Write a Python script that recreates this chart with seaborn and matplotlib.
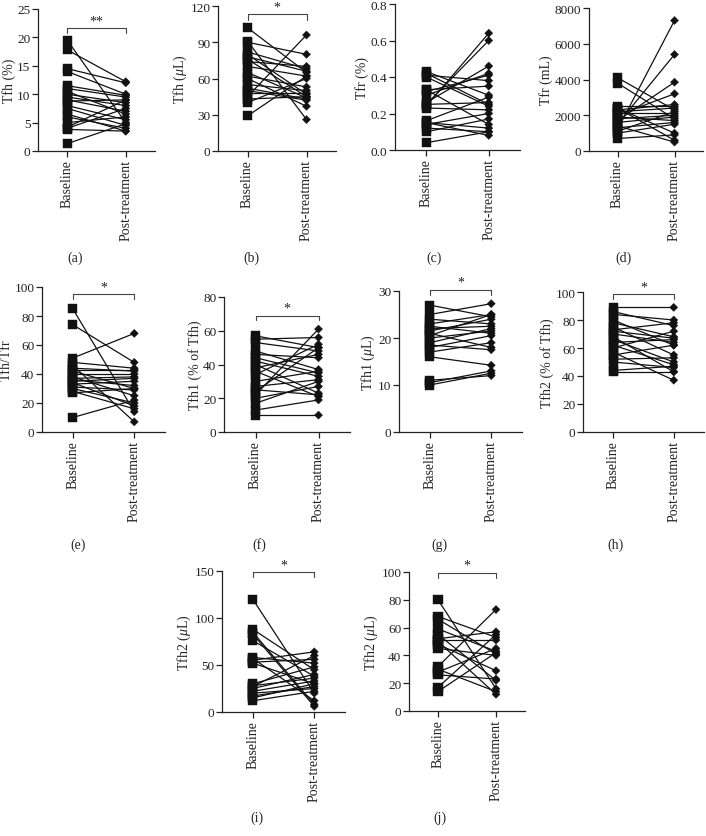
import numpy as np
import pandas as pd
import matplotlib
matplotlib.use("Agg")
import matplotlib.pyplot as plt
import seaborn as sns

# ─────────────────────────────────────────────
# Paired values (one entry per subject)
# ─────────────────────────────────────────────
a_base = [19.5, 17.8, 14.5, 14.0, 11.5, 11.0, 10.5, 10.0, 9.5, 9.0, 8.8, 8.0, 7.5, 6.5, 6.0, 5.0, 4.2, 4.0, 3.8, 1.3]
a_post = [5.0, 12.2, 12.0, 10.0, 9.8, 9.5, 6.5, 8.5, 8.0, 7.0, 9.0, 5.5, 4.5, 3.5, 4.0, 6.0, 9.0, 7.5, 3.5, 4.8]

b_base = [102, 91, 90, 82, 80, 78, 76, 74, 70, 65, 62, 60, 55, 52, 50, 48, 45, 43, 40, 29]
b_post = [65, 26, 80, 68, 47, 66, 45, 70, 62, 44, 53, 37, 50, 43, 42, 48, 96, 45, 60, 62]

c_base = [0.43, 0.42, 0.41, 0.40, 0.33, 0.32, 0.30, 0.26, 0.25, 0.24, 0.23, 0.16, 0.15, 0.14, 0.12, 0.10, 0.04, 0.25, 0.33, 0.15]
c_post = [0.30, 0.25, 0.38, 0.24, 0.35, 0.41, 0.42, 0.46, 0.60, 0.64, 0.22, 0.29, 0.08, 0.20, 0.10, 0.17, 0.10, 0.26, 0.14, 0.12]

d_base = [4100, 3800, 2500, 2400, 2300, 2200, 2100, 2000, 1900, 1800, 1700, 1600, 1500, 1400, 1300, 1200, 1100, 700, 2400, 1000]
d_post = [2300, 1800, 2500, 1000, 2600, 2400, 2100, 3200, 1700, 2000, 3850, 1900, 5400, 500, 1600, 7300, 2200, 900, 600, 1500]

e_base = [85, 74, 51, 48, 46, 44, 42, 40, 38, 37, 36, 34, 33, 31, 30, 28, 27, 10, 43, 35]
e_post = [14, 48, 68, 44, 7, 42, 30, 40, 25, 38, 32, 18, 35, 29, 20, 16, 30, 22, 43, 37]

f_base = [57, 55, 53, 48, 46, 44, 42, 40, 38, 36, 34, 30, 27, 25, 24, 22, 20, 17, 13, 10]
f_post = [50, 56, 48, 37, 44, 35, 33, 23, 46, 21, 52, 36, 31, 22, 50, 61, 27, 30, 19, 10]

g_base = [27, 25, 23, 22.5, 22, 21.5, 21, 20, 19, 18.5, 18, 17, 16, 11, 10.5, 10, 24, 20.5]
g_post = [24.5, 27.3, 25, 21, 22.5, 24, 18, 21.5, 22, 17.5, 20.5, 19, 14.2, 12, 13, 12.5, 23, 25]

h_base = [89, 86, 84, 80, 78, 75, 73, 70, 68, 66, 64, 62, 60, 57, 55, 52, 50, 44, 43, 72]
h_post = [89, 76, 80, 62, 68, 55, 78, 64, 43, 50, 66, 48, 72, 37, 62, 53, 46, 47, 43, 67]

i_base = [120, 88, 85, 83, 76, 58, 55, 53, 52, 30, 28, 25, 22, 20, 17, 15, 12, 57, 27]
i_post = [20, 45, 8, 6, 38, 52, 64, 56, 30, 48, 36, 40, 33, 25, 27, 30, 22, 12, 60]

j_base = [80, 68, 66, 59, 55, 52, 50, 48, 45, 32, 30, 28, 26, 17, 14, 51]
j_post = [16, 53, 41, 43, 22, 57, 12, 29, 40, 73, 14, 45, 23, 55, 42, 51]

GROUPS = ["Baseline", "Post-treatment"]

# ─────────────────────────────────────────────
# Style
# ─────────────────────────────────────────────
sns.set_theme(style="ticks")
plt.rcParams["font.family"] = ["Liberation Serif", "DejaVu Serif"]
plt.rcParams["mathtext.fontset"] = "custom"
plt.rcParams["mathtext.rm"] = "Liberation Serif"
plt.rcParams["mathtext.it"] = "Liberation Serif:italic"
plt.rcParams["axes.edgecolor"] = "#222222"
plt.rcParams["axes.linewidth"] = 0.9
plt.rcParams["xtick.color"] = "#222222"
plt.rcParams["ytick.color"] = "#222222"
FS = 10        # x tick labels, y labels, panel letters
FS_Y = 9.5     # y tick numbers

W, H = 706, 837
fig = plt.figure(figsize=(W / 100, H / 100), dpi=100)


def make_ax(x0, x1, ytop, ybot):
    # rectangle given in pixel coordinates of the page
    return fig.add_axes([x0 / W, 1 - ybot / H, (x1 - x0) / W, (ybot - ytop) / H])


def draw_panel(ax, base, post, ylabel, yticks, fmt, sig, sig_y, letter, letter_xy):
    n = len(base)
    df = pd.DataFrame({
        "subject": list(range(n)) * 2,
        "time": [GROUPS[0]] * n + [GROUPS[1]] * n,
        "value": list(base) + list(post),
    })
    sns.lineplot(data=df, x="time", y="value", units="subject", estimator=None,
                 color="#111111", linewidth=0.9, ax=ax, legend=False)
    sns.scatterplot(data=df, x="time", y="value", style="time", size="time",
                    markers={GROUPS[0]: "s", GROUPS[1]: "D"},
                    sizes={GROUPS[0]: 42, GROUPS[1]: 17},
                    color="#111111", edgecolor="#111111", linewidth=0.3,
                    ax=ax, legend=False, zorder=3)

    ax.set_xlim(-0.5, 1.5)
    ax.set_ylim(yticks[0], yticks[-1])
    ax.set_yticks(yticks)
    ax.set_yticklabels([fmt.format(t) for t in yticks], fontsize=FS_Y)
    ax.set_xticks([0, 1])
    ax.set_xticklabels(GROUPS, rotation=90, fontsize=FS)
    ax.set_xlabel("")
    ax.set_ylabel(ylabel, fontsize=FS, labelpad=1)
    ax.tick_params(length=4, width=0.9, pad=2)
    ax.tick_params(axis="y", pad=1.5)
    for lab in ax.get_xticklabels():
        lab.set_verticalalignment("top")
    sns.despine(ax=ax)

    if sig:
        top = yticks[-1]
        d = top * 0.035
        ax.plot([0, 0, 1, 1], [sig_y - d, sig_y, sig_y, sig_y - d],
                color="#444444", linewidth=0.8, clip_on=False)
        ax.text(0.5, sig_y + top * 0.005, sig, ha="center", va="bottom",
                fontsize=FS, color="#222222", clip_on=False)

    fig.text(letter_xy[0] / W, 1 - letter_xy[1] / H, letter,
             ha="center", va="center", fontsize=FS)


# ─────────────────────────────────────────────
# Row 1
# ─────────────────────────────────────────────
draw_panel(make_ax(38, 155, 10, 152), a_base, a_post, "Tfh (%)",
           [0, 5, 10, 15, 20, 25], "{:d}", "**", 21.6, "(a)", (75, 258))
draw_panel(make_ax(218, 336, 7, 152), b_base, b_post, r"Tfh ($\mu$L)",
           [0, 30, 60, 90, 120], "{:d}", "*", 113, "(b)", (251, 258))
draw_panel(make_ax(395, 520, 5, 151), c_base, c_post, "Tfr (%)",
           [0.0, 0.2, 0.4, 0.6, 0.8], "{:.1f}", None, None, "(c)", (434, 258))
draw_panel(make_ax(589, 703, 9, 152), d_base, d_post, "Tfr (mL)",
           [0, 2000, 4000, 6000, 8000], "{:d}", None, None, "(d)", (623, 258))

# ─────────────────────────────────────────────
# Row 2
# ─────────────────────────────────────────────
draw_panel(make_ax(42, 165, 288, 433), e_base, e_post, "Tfh/Tfr",
           [0, 20, 40, 60, 80, 100], "{:d}", "*", 95, "(e)", (78, 545))
draw_panel(make_ax(224, 350, 298, 433), f_base, f_post, "Tfh1 (% of Tfh)",
           [0, 20, 40, 60, 80], "{:d}", "*", 69, "(f)", (259, 545))
draw_panel(make_ax(399, 522, 292, 433), g_base, g_post, r"Tfh1 ($\mu$L)",
           [0, 10, 20, 30], "{:d}", "*", 30.3, "(g)", (439, 545))
draw_panel(make_ax(583, 704, 293, 433), h_base, h_post, "Tfh2 (% of Tfh)",
           [0, 20, 40, 60, 80, 100], "{:d}", "*", 98.5, "(h)", (616, 545))

# ─────────────────────────────────────────────
# Row 3
# ─────────────────────────────────────────────
draw_panel(make_ax(222, 345, 572, 713), i_base, i_post, r"Tfh2 ($\mu$L)",
           [0, 50, 100, 150], "{:d}", "*", 148.5, "(i)", (257, 818))
draw_panel(make_ax(409, 525, 573, 712), j_base, j_post, r"Tfh2 ($\mu$L)",
           [0, 20, 40, 60, 80, 100], "{:d}", "*", 99.5, "(j)", (440, 818))

fig.savefig("out.png", dpi=100)
